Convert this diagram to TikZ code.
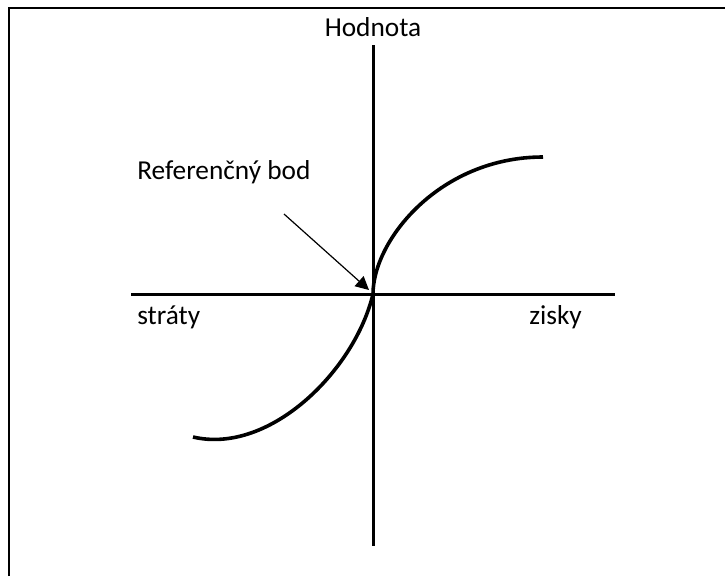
\documentclass[tikz,border=0pt]{standalone}
\usepackage{fontspec}
\setmainfont{Carlito}
\usetikzlibrary{arrows.meta}

\begin{document}
\begin{tikzpicture}[x=0.75pt,y=-0.75pt,>={Triangle[length=10pt,width=10pt]},every node/.style={font=\fontsize{20.5}{24}\selectfont,inner sep=0pt}]
\useasboundingbox (0,0) rectangle (725,576);
\draw[line width=1.5pt] (8.5,576) -- (8.5,8) -- (725,8);
% axes
\coordinate (o) at (373,294);
\coordinate (top) at (373,45);
\coordinate (bottom) at (373,546);
\coordinate (left) at (131,294);
\coordinate (right) at (615,294);
\draw[line width=2.25pt] (top) -- (bottom);
\draw[line width=2.25pt] (left) -- (right);
\node[anchor=base] (hodnota) at (373,36) {Hodnota};
\node[anchor=base west] (straty) at (137,324) {stráty};
\node[anchor=base west] (zisky) at (529,324) {zisky};
\node[anchor=base west] (ref) at (137,179) {Referenčný bod};
% value curve
\draw[line width=2.7pt] (193,437) .. controls (270,455) and (355,370) .. (o)
  .. controls (373,240) and (440,157) .. (543,157);
\coordinate (refstart) at (284,214);
\draw[->,line width=0.9pt] (refstart) -- (369,290);
\end{tikzpicture}
\end{document}
